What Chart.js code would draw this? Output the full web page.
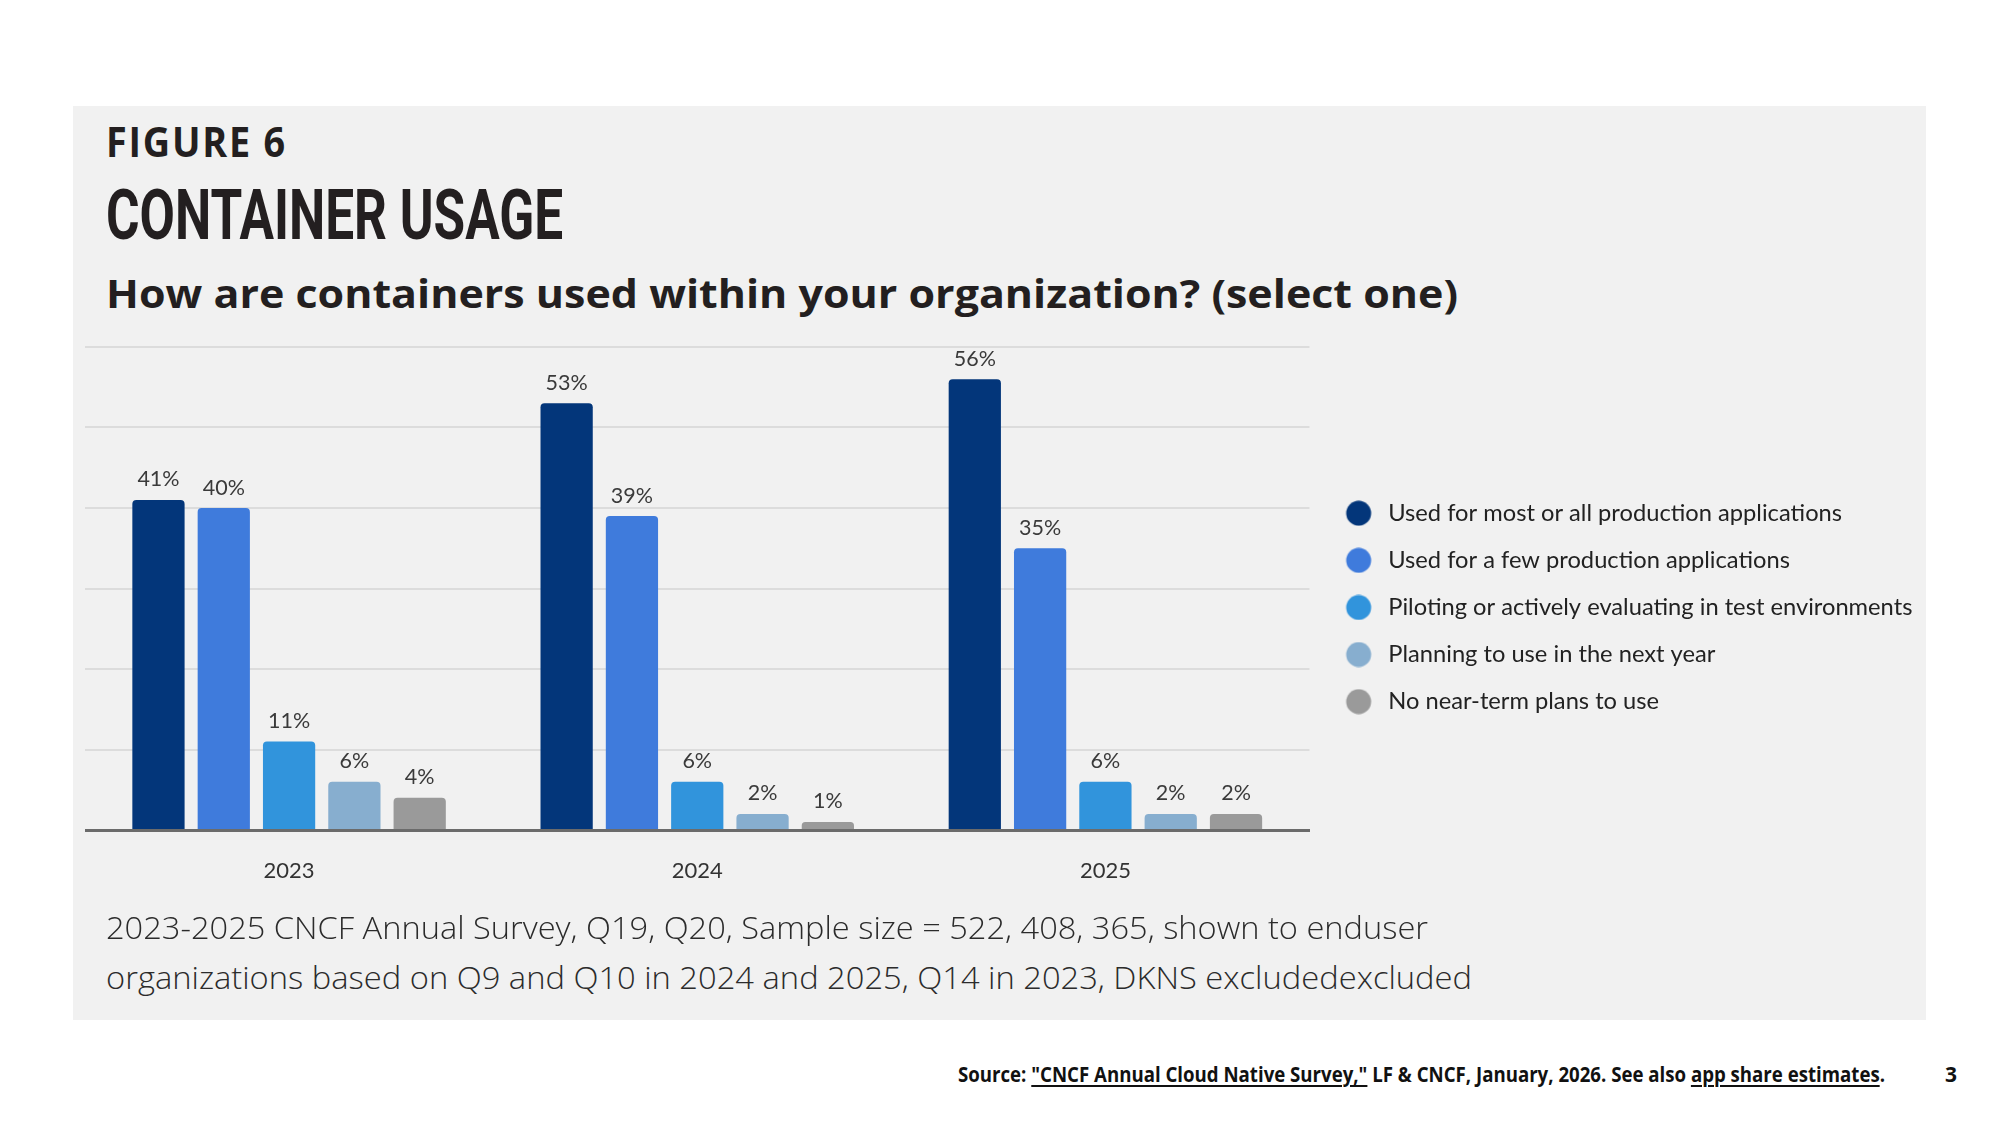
<!DOCTYPE html>
<html lang="en">
<head>
<meta charset="UTF-8">
<title>Container Usage</title>
<script src="https://cdn.jsdelivr.net/npm/chart.js"></script>
<style>
    body {
        margin: 0;
        width: 2000px;
        height: 1125px;
        background: #ffffff;
        position: relative;
        overflow: hidden;
        font-family: "Open Sans", sans-serif;
    }

    #panel {
        position: absolute;
        left: 73px;
        top: 106px;
        width: 1853px;
        height: 914px;
        background: #f1f1f1;
    }

    .txt {
        position: absolute;
        white-space: nowrap;
        line-height: 1;
        transform-origin: left top;
        color: #231f20;
    }

    #figNo { left: 106px; top: 120px; font-size: 42px; font-weight: 700; letter-spacing: 2px; }
    #title { left: 106px; top: 180px; font-family: Roboto, sans-serif; font-size: 70px; font-weight: 700; }
    #question { left: 106px; top: 273px; font-size: 40px; font-weight: 700; }
    .note { left: 106px; font-size: 31px; font-weight: 300; color: #2b2b2b; }
    #note1 { top: 912px; }
    #note2 { top: 962px; }
    #source { left: 958px; top: 1064px; font-size: 21px; font-weight: 700; color: #111; }
    #source u { text-decoration-thickness: 2px; text-underline-offset: 3px; }
    #pageNo { left: 1945px; top: 1064px; font-size: 21px; font-weight: 700; color: #111; }

    #chartBox {
        position: absolute;
        left: 84px;
        top: 337px;
        width: 1842px;
        height: 560px;
    }
</style>
</head>
<body>
<div id="panel"></div>
<div class="txt" id="figNo">FIGURE 6</div>
<div class="txt" id="title">CONTAINER USAGE</div>
<div class="txt" id="question">How are containers used within your organization? (select one)</div>
<div id="chartBox"><canvas id="usageChart"></canvas></div>
<div class="txt note" id="note1">2023-2025 CNCF Annual Survey, Q19, Q20, Sample size = 522, 408, 365, shown to enduser</div>
<div class="txt note" id="note2">organizations based on Q9 and Q10 in 2024 and 2025, Q14 in 2023, DKNS excludedexcluded</div>
<div class="txt" id="source">Source: <u>"CNCF Annual Cloud Native Survey,"</u> LF &amp; CNCF, January, 2026. See also <u>app share estimates</u>.</div>
<div class="txt" id="pageNo">3</div>

<script>
    const years = ['2023', '2024', '2025'];
    const answers = [
        'Used for most or all production applications',
        'Used for a few production applications',
        'Piloting or actively evaluating in test environments',
        'Planning to use in the next year',
        'No near-term plans to use'
    ];
    const mostAll = [41, 53, 56];
    const fewApps = [40, 39, 35];
    const piloting = [11, 6, 6];
    const planning = [6, 2, 2];
    const noPlans = [4, 1, 2];
    const yTicks = [0, 10, 20, 30, 40, 50, 60];

    const colors = ['#03367a', '#3f7bdc', '#3194dc', '#87aecf', '#9a9a9a'];
    const seriesValues = [mostAll, fewApps, piloting, planning, noPlans];

    // legend dot drawn into a small canvas so the text sits where it should
    function legendDot(color) {
        const c = document.createElement('canvas');
        c.width = 44;
        c.height = 26;
        const g = c.getContext('2d');
        g.fillStyle = color;
        g.beginPath();
        g.arc(26, 13, 12.5, 0, Math.PI * 2);
        g.fill();
        return c;
    }

    const valueLabels = {
        id: 'valueLabels',
        afterDatasetsDraw(chart) {
            const ctx = chart.ctx;
            ctx.save();
            ctx.font = '21.5px Lato';
            ctx.fillStyle = '#3a3a3a';
            ctx.textAlign = 'center';
            ctx.textBaseline = 'alphabetic';
            chart.data.datasets.forEach((ds, i) => {
                chart.getDatasetMeta(i).data.forEach((bar, j) => {
                    ctx.fillText(ds.data[j] + '%', bar.x, bar.y - 13.5);
                });
            });
            ctx.restore();
        }
    };

    const target = {left: 84.5, top: 347, right: 1309, bottom: 830};

    function fitWidth(id, width) {
        const el = document.getElementById(id);
        el.style.transform = 'none';
        const w = el.getBoundingClientRect().width;
        el.style.transform = 'scaleX(' + (width / w) + ')';
    }

    document.fonts.ready.then(() => {
        fitWidth('figNo', 181);
        fitWidth('title', 457);
        fitWidth('question', 1352);
        fitWidth('note1', 1322);
        fitWidth('note2', 1366);
        fitWidth('source', 927);

        const ctx = document.getElementById('usageChart').getContext('2d');
        const chart = new Chart(ctx, {
            type: 'bar',
            data: {
                labels: years,
                datasets: answers.map((a, i) => ({
                    label: a,
                    data: seriesValues[i],
                    backgroundColor: colors[i],
                    borderRadius: 4,
                    barPercentage: 0.8,
                    categoryPercentage: 0.8,
                    pointStyle: legendDot(colors[i])
                }))
            },
            options: {
                responsive: true,
                maintainAspectRatio: false,
                animation: false,
                layout: {padding: {top: 10, right: 0, bottom: 0, left: 0}},
                plugins: {
                    tooltip: {enabled: false},
                    legend: {
                        position: 'right',
                        align: 'start',
                        maxWidth: 800,
                        title: {display: true, text: '', font: {size: 10}, padding: {top: 119, bottom: 0}},
                        labels: {
                            usePointStyle: true,
                            pointStyleWidth: 43.5,
                            padding: 23.4,
                            color: '#222222',
                            font: {family: 'Lato', size: 23.7}
                        }
                    }
                },
                scales: {
                    x: {
                        grid: {display: false, drawTicks: false},
                        border: {display: true, color: '#6b6b6b', width: 3},
                        ticks: {color: '#333333', padding: 27.5, font: {family: 'Lato', size: 22}}
                    },
                    y: {
                        min: 0,
                        max: 60,
                        afterBuildTicks: axis => { axis.ticks = yTicks.map(v => ({value: v})); },
                        grid: {
                            drawTicks: false,
                            color: c => c.tick.value === 0 ? 'rgba(0,0,0,0)' : '#dcdcdc',
                            lineWidth: 2
                        },
                        border: {display: false},
                        ticks: {display: false}
                    }
                }
            },
            plugins: [valueLabels]
        });

        // move and size the canvas so that the plot area lands where the reference has it
        const box = document.getElementById('chartBox');
        const a = chart.chartArea;
        const boxLeft = 84, boxTop = 337;
        const newLeft = boxLeft + (target.left - (boxLeft + a.left));
        const newTop = boxTop + (target.top - (boxTop + a.top));
        const newWidth = box.clientWidth + (target.right - target.left) - (a.right - a.left);
        const newHeight = box.clientHeight + (target.bottom - target.top) - (a.bottom - a.top);
        box.style.left = newLeft + 'px';
        box.style.top = newTop + 'px';
        box.style.width = newWidth + 'px';
        box.style.height = newHeight + 'px';
        chart.resize();
    });
</script>
</body>
</html>
